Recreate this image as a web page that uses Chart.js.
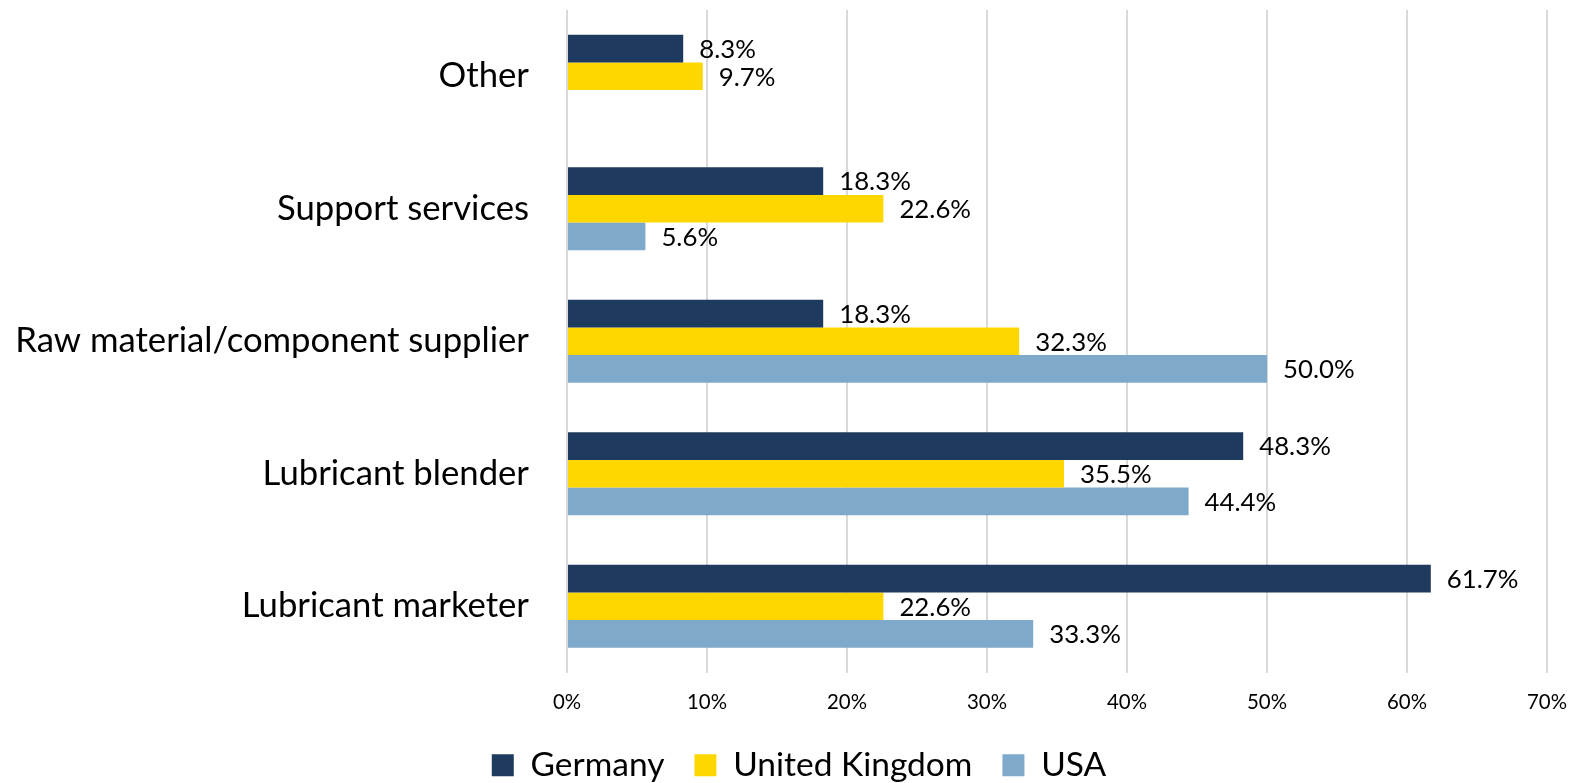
<!DOCTYPE html>
<html><head><meta charset="utf-8">
<script src="https://cdn.jsdelivr.net/npm/chart.js@4.4.1/dist/chart.umd.min.js"></script>
<style>html,body{margin:0;padding:0;background:#fff;}#wrap{width:1578px;height:783px;position:relative}canvas{display:block}</style>
</head><body><div id="wrap"><canvas id="c" width="1578" height="783"></canvas></div>
<script>
const categories = ['Other', 'Support services', 'Raw material/component supplier', 'Lubricant blender', 'Lubricant marketer'];
const seriesNames = ['Germany', 'United Kingdom', 'USA'];
const germany = [8.3, 18.3, 18.3, 48.3, 61.7];
const unitedKingdom = [9.7, 22.6, 32.3, 35.5, 22.6];
const usa = [null, 5.6, 50.0, 44.4, 33.3];
const xTickValues = [0, 10, 20, 30, 40, 50, 60, 70];
const seriesColors = ['#1F3A5F', '#FFD700', '#7FA9CA'];

const FAMILY = 'Lato, "Open Sans", sans-serif';
function fitSize(text, target) {
  const c = document.createElement('canvas').getContext('2d');
  c.font = '100px ' + FAMILY;
  return +(100 * target / c.measureText(text).width).toFixed(1);
}
const catSize = fitSize('Raw material/component supplier', 514);
const legendSize = fitSize('United Kingdom', 239);
const dataSize = fitSize('61.7%', 71.7);
const tickSize = fitSize('10%', 40);

const valueLabels = {
  id: 'valueLabels',
  afterDatasetsDraw(chart) {
    const ctx = chart.ctx;
    ctx.save();
    ctx.font = dataSize + 'px ' + FAMILY;
    ctx.fillStyle = '#000';
    ctx.textBaseline = 'middle';
    ctx.textAlign = 'left';
    chart.data.datasets.forEach((ds, i) => {
      const meta = chart.getDatasetMeta(i);
      meta.data.forEach((el, j) => {
        const v = ds.data[j];
        if (v == null) return;
        ctx.fillText(v.toFixed(1) + '%', el.x + 16, el.y + 1);
      });
    });
    ctx.restore();
  }
};

const seriesData = [germany, unitedKingdom, usa];
new Chart(document.getElementById('c'), {
  type: 'bar',
  data: {
    labels: categories,
    datasets: seriesNames.map((n, i) => ({
      label: n,
      data: seriesData[i],
      backgroundColor: seriesColors[i],
      borderWidth: 0,
      categoryPercentage: 0.625,
      barPercentage: 1
    }))
  },
  options: {
    indexAxis: 'y',
    responsive: false,
    animation: false,
    layout: { padding: { left: 14, right: -6, top: 10, bottom: -9 } },
    scales: {
      x: {
        min: 0, max: 70,
        afterBuildTicks(s) { s.ticks = xTickValues.map(v => ({ value: v })); },
        ticks: { callback: v => v + '%', font: { family: FAMILY, size: tickSize }, color: '#000', padding: 18, maxRotation: 0 },
        grid: { color: '#D9D9D9', lineWidth: 2, drawTicks: false },
        border: { display: false },
        afterFit(s) { s.height = 46; s.paddingRight = 31; s.paddingLeft = 0; }
      },
      y: {
        grid: { display: false, drawTicks: false },
        border: { display: false },
        ticks: { font: { family: FAMILY, size: catSize }, color: '#000', padding: 38 },
        afterFit(s) { s.width = 553; s.paddingTop = 0; s.paddingBottom = 0; }
      }
    },
    plugins: {
      legend: {
        position: 'bottom',
        labels: { boxWidth: 22, boxHeight: 22, padding: 30, font: { family: FAMILY, size: legendSize }, color: '#000' }
      },
      tooltip: { enabled: false }
    }
  },
  plugins: [valueLabels]
});
</script>
</body></html>
